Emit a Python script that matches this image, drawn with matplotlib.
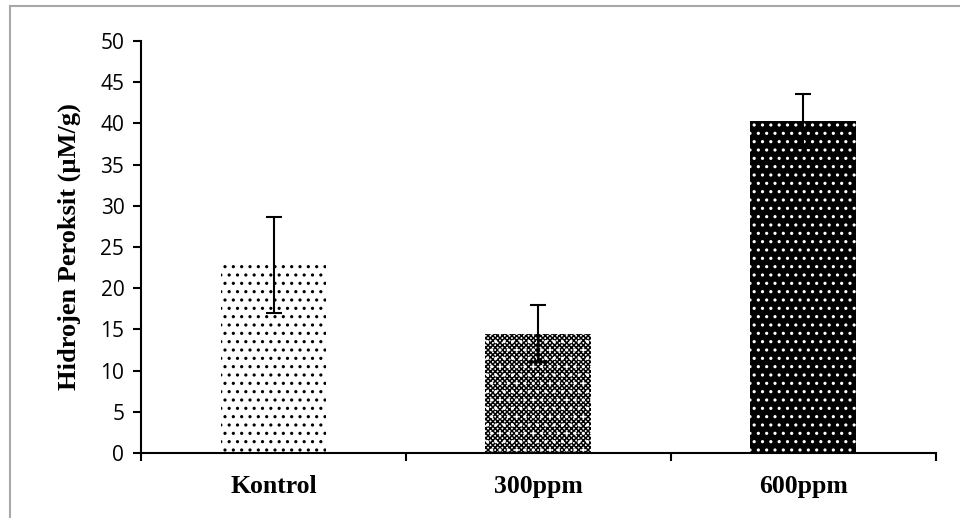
import matplotlib
matplotlib.use("Agg")
import matplotlib.pyplot as plt
from matplotlib.lines import Line2D

groups = ["Kontrol", "300ppm", "600ppm"]
means = [22.8, 14.5, 40.3]
errors = [5.8, 3.4, 3.3]
y_ticks = [0, 5, 10, 15, 20, 25, 30, 35, 40, 45, 50]

plt.rcParams["hatch.linewidth"] = 1.1

fig = plt.figure(figsize=(9.6, 5.18), dpi=100)
ax = fig.add_axes([0.1469, 0.1255, 0.828, 0.7954])

x = list(range(len(groups)))
width = 0.4

# Kontrol: black dots on white
ax.bar(x[0], means[0], width, color="white", edgecolor="black", linewidth=0, hatch="..")
# 300ppm: fine checker with white dots on top
ax.bar(x[1], means[1], width, color="white", edgecolor="black", linewidth=0, hatch="xxxxxxx")
ax.bar(x[1], means[1], width, color="none", edgecolor="white", linewidth=0, hatch="..")
# 600ppm: white dots on black
ax.bar(x[2], means[2], width, color="black", edgecolor="white", linewidth=0, hatch="..")

ax.errorbar(x, means, yerr=errors, fmt="none", ecolor="black", elinewidth=1.5,
            capsize=6, capthick=1.5, zorder=5)

ax.set_xlim(-0.5, 2.5)
ax.set_ylim(0, 50)
ax.set_yticks(y_ticks)
ax.set_yticklabels([str(v) for v in y_ticks], fontfamily="Open Sans", fontsize=15)

# category separators as ticks on the x axis
ax.set_xticks([-0.5, 0.5, 1.5, 2.5])
ax.set_xticklabels([])
ax.tick_params(axis="x", direction="out", length=6, width=1.5)
ax.tick_params(axis="y", direction="out", length=6, width=1.5, pad=6)
for i, g in enumerate(groups):
    ax.text(i, -4.1, g, ha="center", va="center", fontfamily="Liberation Serif",
            fontweight="bold", fontsize=18.5)

for side in ["top", "right"]:
    ax.spines[side].set_visible(False)
for side in ["left", "bottom"]:
    ax.spines[side].set_linewidth(1.5)

ax.set_ylabel("Hidrojen Peroksit (\u00b5M/g)", fontfamily="Liberation Serif",
              fontweight="bold", fontsize=19, labelpad=4)
ax.yaxis.set_label_coords(-0.075, 0.5)

# page frame
fig.add_artist(Line2D([10 / 960, 10 / 960], [0, 1 - 6 / 518], color="#a8a8a8",
                      linewidth=1.5, transform=fig.transFigure))
fig.add_artist(Line2D([10 / 960, 1], [1 - 6 / 518, 1 - 6 / 518], color="#a8a8a8",
                      linewidth=1.5, transform=fig.transFigure))

fig.savefig("out.png", dpi=100)
